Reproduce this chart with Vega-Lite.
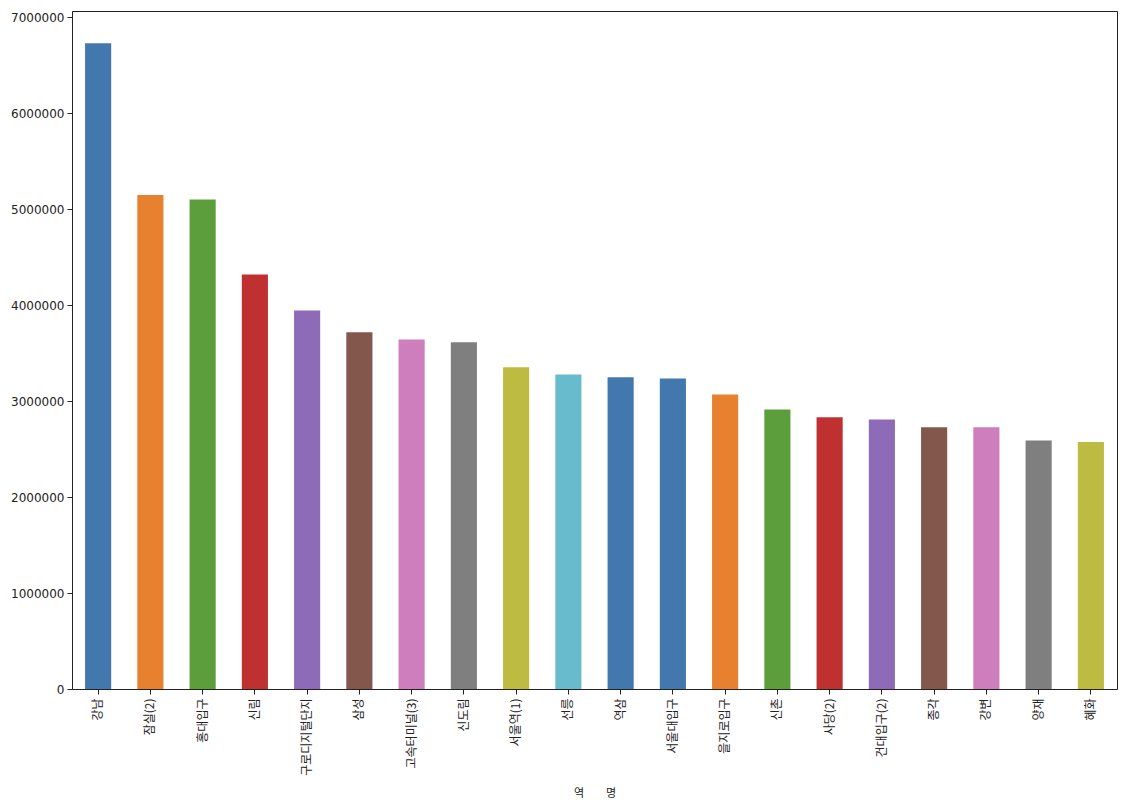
{
  "$schema": "https://vega.github.io/schema/vega-lite/v6.json",
  "width": 1045,
  "height": 678,
  "autosize": {"type": "none"},
  "padding": {"left": 72, "top": 11, "right": 28, "bottom": 115},
  "background": "white",
  "config": {
    "font": "Noto Sans CJK KR",
    "view": {"stroke": "#222222", "strokeWidth": 1},
    "axis": {
      "domain": false,
      "grid": false,
      "tickColor": "#222222",
      "tickSize": 5,
      "labelColor": "#222222",
      "labelFontSize": 12,
      "labelFont": "Noto Sans CJK KR"
    }
  },
  "data": {
    "values": [
      {"station": "강남", "count": 6730000},
      {"station": "잠실(2)", "count": 5148000},
      {"station": "홍대입구", "count": 5101000},
      {"station": "신림", "count": 4320000},
      {"station": "구로디지털단지", "count": 3945000},
      {"station": "삼성", "count": 3719000},
      {"station": "고속터미널(3)", "count": 3643000},
      {"station": "신도림", "count": 3615000},
      {"station": "서울역(1)", "count": 3354000},
      {"station": "선릉", "count": 3278000},
      {"station": "역삼", "count": 3250000},
      {"station": "서울대입구", "count": 3236000},
      {"station": "을지로입구", "count": 3070000},
      {"station": "신촌", "count": 2913000},
      {"station": "사당(2)", "count": 2833000},
      {"station": "건대입구(2)", "count": 2809000},
      {"station": "종각", "count": 2729000},
      {"station": "강변", "count": 2729000},
      {"station": "양재", "count": 2590000},
      {"station": "혜화", "count": 2573000}
    ]
  },
  "mark": {"type": "bar"},
  "encoding": {
    "x": {
      "field": "station",
      "type": "nominal",
      "sort": null,
      "scale": {"paddingInner": 0.5, "paddingOuter": 0.25},
      "axis": {
        "title": "역\u2003\u2003명",
        "titleFontSize": 11,
        "titleFontWeight": "normal",
        "titleColor": "#222222",
        "titleY": 104,
        "titleBaseline": "middle",
        "labelAngle": -90,
        "labelAlign": "right",
        "labelBaseline": "middle",
        "labelPadding": 4
      }
    },
    "y": {
      "field": "count",
      "type": "quantitative",
      "scale": {"domain": [0, 7066000], "nice": false},
      "axis": {
        "title": null,
        "values": [0, 1000000, 2000000, 3000000, 4000000, 5000000, 6000000, 7000000],
        "format": "d",
        "labelFont": "DejaVu Sans",
        "labelFontSize": 12,
        "labelPadding": 3
      }
    },
    "color": {
      "field": "station",
      "type": "nominal",
      "sort": null,
      "legend": null,
      "scale": {
        "range": ["#4378AE", "#E8812F", "#5C9E3C", "#BF3130", "#8D6BB8", "#83574C", "#CE7DBD", "#7F7F7F", "#BDBB41", "#67BBCD",
                  "#4378AE", "#4378AE", "#E8812F", "#5C9E3C", "#BF3130", "#8D6BB8", "#83574C", "#CE7DBD", "#7F7F7F", "#BDBB41"]
      }
    }
  }
}
